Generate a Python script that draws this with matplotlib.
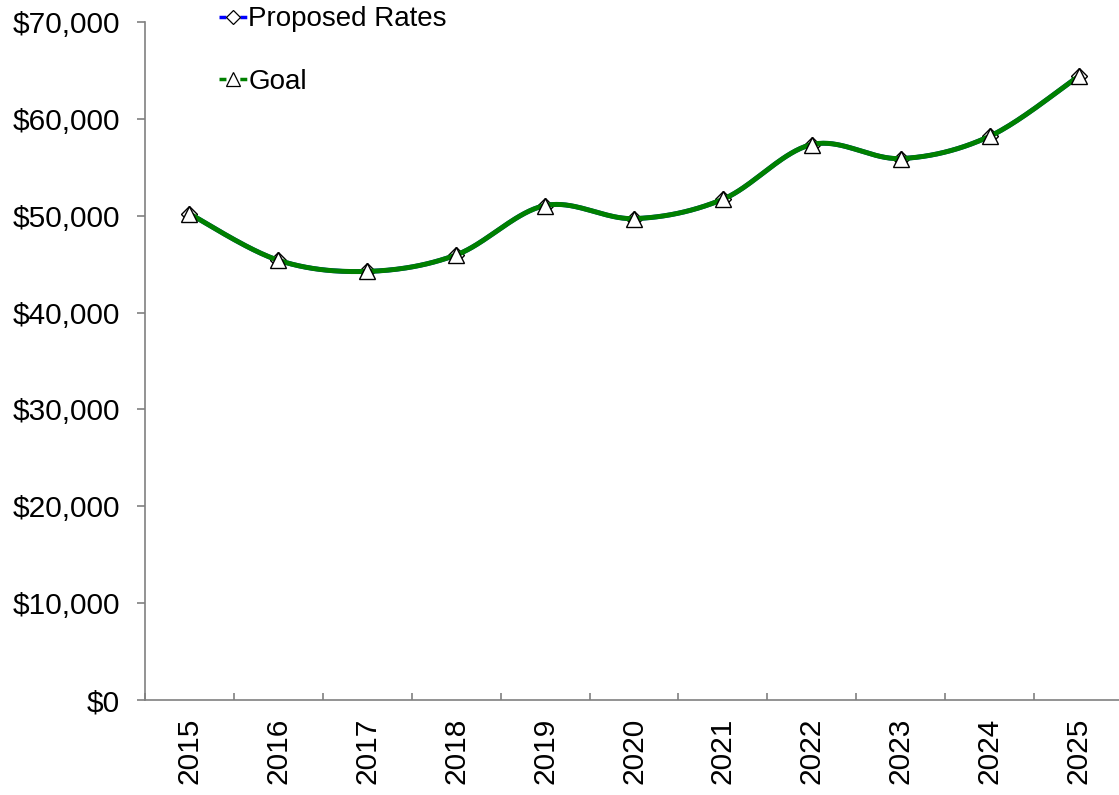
import numpy as np
import matplotlib
matplotlib.use("Agg")
import matplotlib.pyplot as plt
from matplotlib.ticker import FuncFormatter, FixedLocator
from matplotlib.lines import Line2D

plt.rcParams['font.family'] = ['Liberation Sans', 'DejaVu Sans']

years = ['2015', '2016', '2017', '2018', '2019', '2020',
         '2021', '2022', '2023', '2024', '2025']
proposed_rates = [50200, 45400, 44250, 45950, 51050, 49700,
                  51700, 57350, 55900, 58200, 64400]
goal = [50200, 45400, 44250, 45950, 51050, 49700,
        51700, 57350, 55900, 58200, 64400]


def smooth_curve(y, steps=40):
    """Cubic Bezier smoothing through every point (spreadsheet-style)."""
    x = np.arange(len(y), dtype=float)
    y = np.asarray(y, dtype=float)
    xs, ys = [], []
    n = len(y)
    for i in range(n - 1):
        i0 = max(i - 1, 0)
        i3 = min(i + 2, n - 1)
        p0 = np.array([x[i], y[i]])
        p3 = np.array([x[i + 1], y[i + 1]])
        c1 = p0 + (np.array([x[i + 1], y[i + 1]]) - np.array([x[i0], y[i0]])) / 6
        c2 = p3 - (np.array([x[i3], y[i3]]) - np.array([x[i], y[i]])) / 6
        t = np.linspace(0, 1, steps)[:, None]
        pts = ((1 - t) ** 3) * p0 + 3 * ((1 - t) ** 2) * t * c1 \
            + 3 * (1 - t) * t ** 2 * c2 + t ** 3 * p3
        xs.extend(pts[:, 0])
        ys.extend(pts[:, 1])
    return np.array(xs), np.array(ys)


fig = plt.figure(figsize=(11.19, 7.95), dpi=100)
ax = fig.add_axes([145 / 1119, 95 / 795, 978 / 1119, 678 / 795])

idx = np.arange(len(years))
axis_gray = '#808080'
fs = 21.5

# Proposed rates series (blue) sits underneath the goal series (green)
px, py = smooth_curve(proposed_rates)
ax.plot(px, py, color='#0000ff', lw=3.4, zorder=2, solid_capstyle='butt')
ax.plot(idx, proposed_rates, ls='none', marker='D', ms=8.0,
        mfc='white', mec='black', mew=1.0, zorder=3)

gx, gy = smooth_curve(goal)
ax.plot(gx, gy, color='#008000', lw=3.6, zorder=4, solid_capstyle='butt')
ax.plot(idx, goal, ls='none', marker='^', ms=11.5,
        mfc='white', mec='black', mew=1.0, zorder=5)

ax.set_xlim(-0.5, len(years) - 0.5)
ax.set_ylim(0, 70000)

ax.yaxis.set_major_locator(FixedLocator(np.arange(0, 70001, 10000)))
ax.yaxis.set_major_formatter(FuncFormatter(lambda v, p: f"${v:,.0f}"))

ax.set_xticks(idx)
ax.set_xticklabels(years, rotation=90)
ax.xaxis.set_minor_locator(FixedLocator(np.arange(-0.5, len(years), 1.0)))
ax.tick_params(axis='x', which='major', length=0, pad=13, labelsize=fs)
ax.tick_params(axis='x', which='minor', direction='in', length=5,
               width=1.2, color=axis_gray)
ax.tick_params(axis='y', direction='out', length=6, width=1.2,
               color=axis_gray, labelsize=fs, pad=12)

for side in ('top', 'right'):
    ax.spines[side].set_visible(False)
for side in ('left', 'bottom'):
    ax.spines[side].set_color(axis_gray)
    ax.spines[side].set_linewidth(1.2)

handles = [
    Line2D([], [], color='#0000ff', lw=2.5, ls=(0, (2, 1)), marker='D', ms=7,
           mfc='white', mec='black', mew=0.9),
    Line2D([], [], color='#008000', lw=2.5, ls=(0, (2, 1)), marker='^', ms=10,
           mfc='white', mec='black', mew=0.9),
]
fig.legend(handles, ['Proposed Rates', 'Goal'], loc='upper left',
           bbox_to_anchor=(219 / 1119, 0.992), frameon=False,
           fontsize=20, handlelength=1.0, handletextpad=0.05,
           labelspacing=1.32, borderpad=0, borderaxespad=0)

fig.savefig('out.png', dpi=100)
